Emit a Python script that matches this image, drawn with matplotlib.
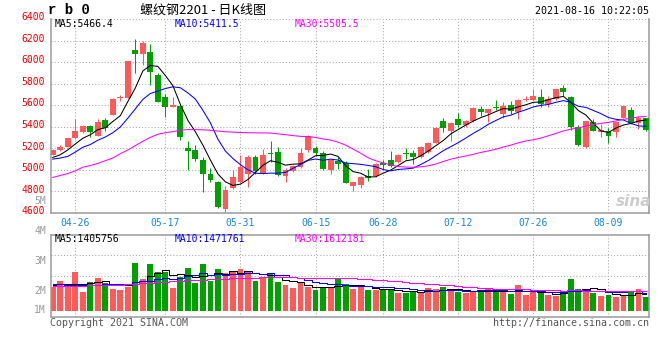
import matplotlib
matplotlib.use("Agg")
import matplotlib.pyplot as plt
import matplotlib.transforms as mtransforms

plt.rcParams['font.family'] = ['DejaVu Sans Mono']

# rb0 daily K, 2021-04-21 .. 2021-08-16 (80 sessions)
opens = [5142, 5185, 5216, 5293, 5348, 5410, 5317, 5461, 5510, 5665,
         5670, 6108, 6075, 6090, 5885, 5676, 5585, 5590, 5200, 5180,
         5093, 4965, 4890, 4637, 4836, 4888, 4965, 5115, 4971, 5150,
         5170, 4940, 4990, 5026, 5180, 5200, 5160, 4995, 5087, 5063,
         4850, 4857, 4946, 4940, 5063, 5096, 5072, 5150, 5155, 5118,
         5165, 5251, 5455, 5357, 5474, 5415, 5449, 5569, 5532, 5575,
         5522, 5602, 5541, 5650, 5651, 5676, 5614, 5654, 5756, 5680,
         5394, 5210, 5446, 5348, 5357, 5348, 5486, 5556, 5431, 5477]
highs = [5195, 5235, 5300, 5470, 5415, 5415, 5470, 5480, 5665, 5695,
         6010, 6215, 6200, 6165, 5900, 5700, 5676, 5600, 5271, 5235,
         5124, 5020, 4895, 4848, 4995, 5142, 5142, 5142, 5195, 5271,
         5216, 5017, 5047, 5200, 5326, 5225, 5179, 5100, 5124, 5087,
         4890, 4945, 5010, 5066, 5093, 5173, 5145, 5204, 5180, 5220,
         5260, 5395, 5477, 5440, 5529, 5460, 5580, 5596, 5566, 5645,
         5633, 5639, 5655, 5682, 5746, 5746, 5685, 5750, 5792, 5685,
         5415, 5455, 5470, 5424, 5385, 5445, 5595, 5584, 5501, 5486]
lows = [5135, 5178, 5210, 5285, 5345, 5305, 5310, 5357, 5505, 5640,
        5665, 5900, 5975, 5790, 5630, 5495, 5580, 5277, 5000, 5087,
        4796, 4888, 4649, 4612, 4827, 4879, 4842, 4965, 4965, 5072,
        4940, 4888, 4980, 5020, 5170, 5133, 4995, 4965, 5008, 4875,
        4805, 4836, 4897, 4935, 5010, 5025, 5065, 5103, 5057, 5110,
        5160, 5245, 5348, 5271, 5400, 5395, 5445, 5498, 5440, 5553,
        5480, 5516, 5470, 5639, 5645, 5584, 5584, 5650, 5685, 5369,
        5225, 5205, 5357, 5308, 5247, 5308, 5480, 5430, 5379, 5365]
closes = [5188, 5210, 5296, 5363, 5409, 5350, 5446, 5385, 5654, 5680,
          6007, 6074, 6175, 5910, 5633, 5587, 5602, 5302, 5173, 5103,
          4965, 4910, 4658, 4811, 4934, 5026, 5124, 4989, 5142, 5145,
          4950, 4995, 5032, 5160, 5317, 5155, 5008, 5096, 5050, 4880,
          4885, 4934, 4922, 5057, 5045, 5032, 5142, 5145, 5118, 5216,
          5251, 5389, 5385, 5431, 5418, 5455, 5578, 5541, 5562, 5570,
          5593, 5547, 5651, 5660, 5682, 5608, 5654, 5746, 5722, 5394,
          5234, 5449, 5363, 5372, 5317, 5440, 5590, 5437, 5480, 5369]

ma5 = [5115, 5140, 5185, 5240, 5293, 5326, 5373, 5391, 5449, 5503,
       5634, 5760, 5918, 5969, 5960, 5876, 5781, 5607, 5459, 5353,
       5229, 5091, 4962, 4889, 4856, 4868, 4911, 4977, 5043, 5085,
       5070, 5044, 5053, 5056, 5091, 5132, 5134, 5147, 5125, 5038,
       4984, 4969, 4934, 4936, 4969, 4998, 5040, 5084, 5096, 5131,
       5174, 5224, 5272, 5334, 5375, 5416, 5453, 5485, 5511, 5541,
       5569, 5563, 5585, 5604, 5627, 5630, 5651, 5670, 5682, 5625,
       5550, 5509, 5432, 5362, 5347, 5388, 5416, 5431, 5453, 5463]
ma10 = [5100, 5110, 5125, 5165, 5210, 5235, 5275, 5305, 5345, 5398,
        5480, 5566, 5654, 5709, 5731, 5755, 5771, 5762, 5714, 5657,
        5552, 5436, 5284, 5174, 5105, 5048, 5001, 4969, 4966, 4970,
        4969, 4977, 5015, 5050, 5088, 5101, 5089, 5100, 5091, 5064,
        5058, 5052, 5041, 5030, 5003, 4991, 5004, 5009, 5016, 5050,
        5086, 5132, 5178, 5215, 5253, 5295, 5339, 5378, 5423, 5458,
        5492, 5508, 5535, 5558, 5584, 5599, 5607, 5627, 5643, 5626,
        5590, 5580, 5551, 5522, 5486, 5469, 5463, 5432, 5408, 5405]
ma30 = [4930, 4948, 4966, 4990, 5025, 5040, 5060, 5085, 5110, 5150,
        5185, 5225, 5265, 5302, 5330, 5345, 5355, 5368, 5374, 5374,
        5372, 5368, 5360, 5354, 5350, 5347, 5345, 5344, 5343, 5342,
        5334, 5327, 5318, 5311, 5308, 5301, 5287, 5277, 5257, 5230,
        5193, 5155, 5113, 5085, 5065, 5047, 5031, 5026, 5024, 5028,
        5038, 5054, 5078, 5099, 5115, 5129, 5144, 5162, 5176, 5191,
        5212, 5230, 5251, 5268, 5280, 5295, 5317, 5338, 5361, 5378,
        5389, 5407, 5421, 5432, 5441, 5454, 5469, 5479, 5491, 5496]

# volume in millions of lots
volume = [2.00, 2.48, 2.00, 3.23, 1.58, 2.42, 2.73, 2.28, 1.81, 1.73,
          2.00, 4.00, 2.64, 3.92, 3.20, 3.25, 1.92, 2.83, 3.56, 2.28,
          3.92, 2.48, 3.48, 3.12, 3.33, 3.48, 3.31, 2.50, 2.75, 3.03,
          2.42, 2.14, 1.92, 2.28, 2.00, 1.73, 2.00, 2.00, 2.62, 2.25,
          1.81, 2.00, 1.75, 1.75, 1.73, 1.73, 1.50, 1.50, 1.64, 1.53,
          1.89, 1.78, 1.98, 1.73, 1.58, 1.50, 1.62, 1.64, 1.81, 1.73,
          1.58, 1.42, 2.17, 1.28, 1.64, 1.45, 1.31, 1.25, 1.64, 2.64,
          1.81, 1.81, 1.50, 1.25, 1.31, 1.17, 1.31, 1.64, 1.81, 1.17]
vol_ma5 = [2.14, 2.22, 2.25, 2.22, 2.26, 2.34, 2.39, 2.45, 2.16, 2.19,
           2.11, 2.36, 2.44, 2.86, 3.15, 3.40, 2.99, 3.02, 2.95, 2.77,
           2.90, 3.01, 3.14, 3.06, 3.27, 3.18, 3.34, 3.15, 3.07, 3.01,
           2.80, 2.57, 2.45, 2.36, 2.15, 2.01, 1.99, 2.00, 2.07, 2.12,
           2.14, 2.14, 2.09, 1.91, 1.81, 1.79, 1.69, 1.64, 1.62, 1.58,
           1.61, 1.67, 1.76, 1.78, 1.79, 1.71, 1.68, 1.61, 1.63, 1.66,
           1.68, 1.64, 1.74, 1.64, 1.62, 1.59, 1.57, 1.39, 1.46, 1.66,
           1.73, 1.83, 1.88, 1.80, 1.54, 1.41, 1.31, 1.34, 1.45, 1.42]
vol_ma10 = [2.22, 2.20, 2.18, 2.17, 2.17, 2.18, 2.18, 2.20, 2.22, 2.23,
            2.23, 2.38, 2.44, 2.51, 2.67, 2.76, 2.68, 2.73, 2.91, 2.96,
            3.15, 3.00, 3.08, 3.00, 3.02, 3.04, 3.18, 3.15, 3.07, 3.14,
            2.99, 2.96, 2.80, 2.72, 2.58, 2.41, 2.28, 2.23, 2.21, 2.14,
            2.08, 2.06, 2.04, 1.99, 1.96, 1.96, 1.91, 1.86, 1.77, 1.69,
            1.70, 1.68, 1.70, 1.70, 1.69, 1.66, 1.68, 1.69, 1.71, 1.73,
            1.70, 1.66, 1.68, 1.63, 1.64, 1.63, 1.60, 1.56, 1.55, 1.64,
            1.66, 1.70, 1.63, 1.63, 1.60, 1.57, 1.57, 1.61, 1.63, 1.48]
vol_ma30 = [2.05, 2.06, 2.07, 2.08, 2.10, 2.11, 2.12, 2.13, 2.15, 2.17,
            2.20, 2.24, 2.28, 2.32, 2.36, 2.40, 2.44, 2.48, 2.52, 2.55,
            2.58, 2.61, 2.64, 2.67, 2.70, 2.72, 2.74, 2.76, 2.77, 2.78,
            2.79, 2.78, 2.78, 2.74, 2.76, 2.73, 2.71, 2.70, 2.73, 2.75,
            2.74, 2.67, 2.64, 2.57, 2.52, 2.47, 2.46, 2.41, 2.35, 2.32,
            2.26, 2.23, 2.18, 2.14, 2.08, 2.01, 1.96, 1.93, 1.90, 1.85,
            1.82, 1.80, 1.81, 1.78, 1.76, 1.75, 1.73, 1.71, 1.67, 1.69,
            1.69, 1.68, 1.67, 1.65, 1.64, 1.62, 1.62, 1.62, 1.63, 1.61]

date_pos = [3, 15, 25, 35, 44, 54, 64, 74]
date_labels = ['04-26', '05-17', '05-31', '06-15', '06-28', '07-12', '07-26', '08-09']
price_ticks = [4600, 4800, 5000, 5200, 5400, 5600, 5800, 6000, 6200, 6400]

RED = '#ff5a5a'
GREEN = '#00a000'
GRID = '#a8a8a8'
FRAME = '#9a9a9a'

W, H = 660, 360


def fx(px):
    return px / W


def fy(py):
    return 1 - py / H


fig = plt.figure(figsize=(6.6, 3.6), dpi=100)
ax = fig.add_axes([fx(50.7), fy(213), fx(649.3 - 50.7), (213 - 19) / H])
axv = fig.add_axes([fx(50.7), fy(317.3), fx(649.3 - 50.7), (317.3 - 234.5) / H])

x = list(range(len(closes)))
cols = [RED if c >= o else GREEN for o, c in zip(opens, closes)]

# candles
ax.vlines(x, lows, highs, colors=cols, lw=0.75, zorder=2)
body_lo = [min(o, c) for o, c in zip(opens, closes)]
body_h = [max(abs(c - o), 9) for o, c in zip(opens, closes)]
ax.bar(x, body_h, bottom=body_lo, width=0.78, color=cols, lw=0, zorder=3)

ax.plot(x, ma5, color='black', lw=0.75, zorder=4)
ax.plot(x, ma10, color='#0000ff', lw=0.75, zorder=4)
ax.plot(x, ma30, color='#ff00ff', lw=0.75, zorder=4)

ax.set_xlim(-0.27, 79.44)
ax.set_ylim(4600, 6400)
ax.set_yticks(price_ticks)
ax.set_xticks(date_pos)
ax.set_xticklabels(date_labels)
ax.tick_params(axis='y', length=0, pad=4, labelsize=7, labelcolor='#ee0000')
ax.tick_params(axis='x', length=0, pad=3.5, labelsize=7, labelcolor='#1a86d8')
up = mtransforms.ScaledTranslation(0, 2 / 72, fig.dpi_scale_trans)
for lab in ax.get_yticklabels():
    lab.set_transform(lab.get_transform() + up)
ax.grid(True, color=GRID, lw=0.75, linestyle=(0, (1, 2)), zorder=0)
ax.set_axisbelow(True)
for s in ['left', 'bottom', 'right']:
    ax.spines[s].set_color(FRAME)
    ax.spines[s].set_linewidth(1.1)
ax.spines['top'].set_visible(False)

# volume
axv.bar(x, volume, width=0.78, color=cols, lw=0, zorder=2)
axv.plot(x, vol_ma5, color='black', lw=0.75, drawstyle='steps-mid', zorder=3)
axv.plot(x, vol_ma10, color='#0000ff', lw=0.75, drawstyle='steps-mid', zorder=3)
axv.plot(x, vol_ma30, color='#ff00ff', lw=0.75, drawstyle='steps-mid', zorder=3)
axv.set_xlim(-0.27, 79.44)
axv.set_ylim(-0.55, 6.35)
axv.set_xticks(date_pos)
axv.set_xticklabels([])
axv.set_yticks([])
axv.tick_params(length=0)
axv.grid(True, axis='x', color=GRID, lw=0.75, linestyle=(0, (1, 2)), zorder=0)
for f in (0.25, 0.5, 0.75):
    axv.plot([0, 1], [f, f], transform=axv.transAxes, color=GRID, lw=0.75,
             linestyle=(0, (1, 2)), zorder=0)
axv.set_axisbelow(True)
for s in axv.spines.values():
    s.set_color(FRAME)
    s.set_linewidth(1.1)

# volume axis labels (as drawn by sina)
for lab, py in [('5M', 201), ('4M', 231), ('3M', 261), ('2M', 291), ('1M', 310)]:
    fig.text(fx(46), fy(py), lab, ha='right', va='center', fontsize=7, color='#999999')

# header
fig.text(fx(48), fy(10), 'r b 0', ha='left', va='center', fontsize=10,
         fontweight='bold', family=['Liberation Mono', 'DejaVu Sans Mono'])
fig.text(fx(140), fy(10), '螺纹钢2201 - 日K线图', ha='left', va='center', fontsize=9.4,
         family=['Noto Sans CJK SC', 'DejaVu Sans'])
fig.text(fx(649), fy(11), '2021-08-16 10:22:05', ha='right', va='center', fontsize=7.2)

fig.text(fx(55), fy(24), 'MA5:5466.4', ha='left', va='center', fontsize=7, color='black')
fig.text(fx(175), fy(24), 'MA10:5411.5', ha='left', va='center', fontsize=7, color='#0000ff')
fig.text(fx(295), fy(24), 'MA30:5505.5', ha='left', va='center', fontsize=7, color='#ff00ff')

fig.text(fx(55), fy(238.5), 'MA5:1405756', ha='left', va='center', fontsize=7, color='black')
fig.text(fx(175), fy(238.5), 'MA10:1471761', ha='left', va='center', fontsize=7, color='#0000ff')
fig.text(fx(295), fy(238.5), 'MA30:1612181', ha='left', va='center', fontsize=7, color='#ff00ff')

fig.text(fx(634), fy(201), 'sina', ha='center', va='center', fontsize=11,
         fontweight='bold', style='italic', color='#cccccc', family='DejaVu Sans')

fig.text(fx(50), fy(323.5), 'Copyright 2021 SINA.COM', ha='left', va='center',
         fontsize=7.2, color='#555555')
fig.text(fx(649), fy(323.5), 'http://finance.sina.com.cn', ha='right', va='center',
         fontsize=7.2, color='#555555')

fig.savefig('out.png', dpi=100)
